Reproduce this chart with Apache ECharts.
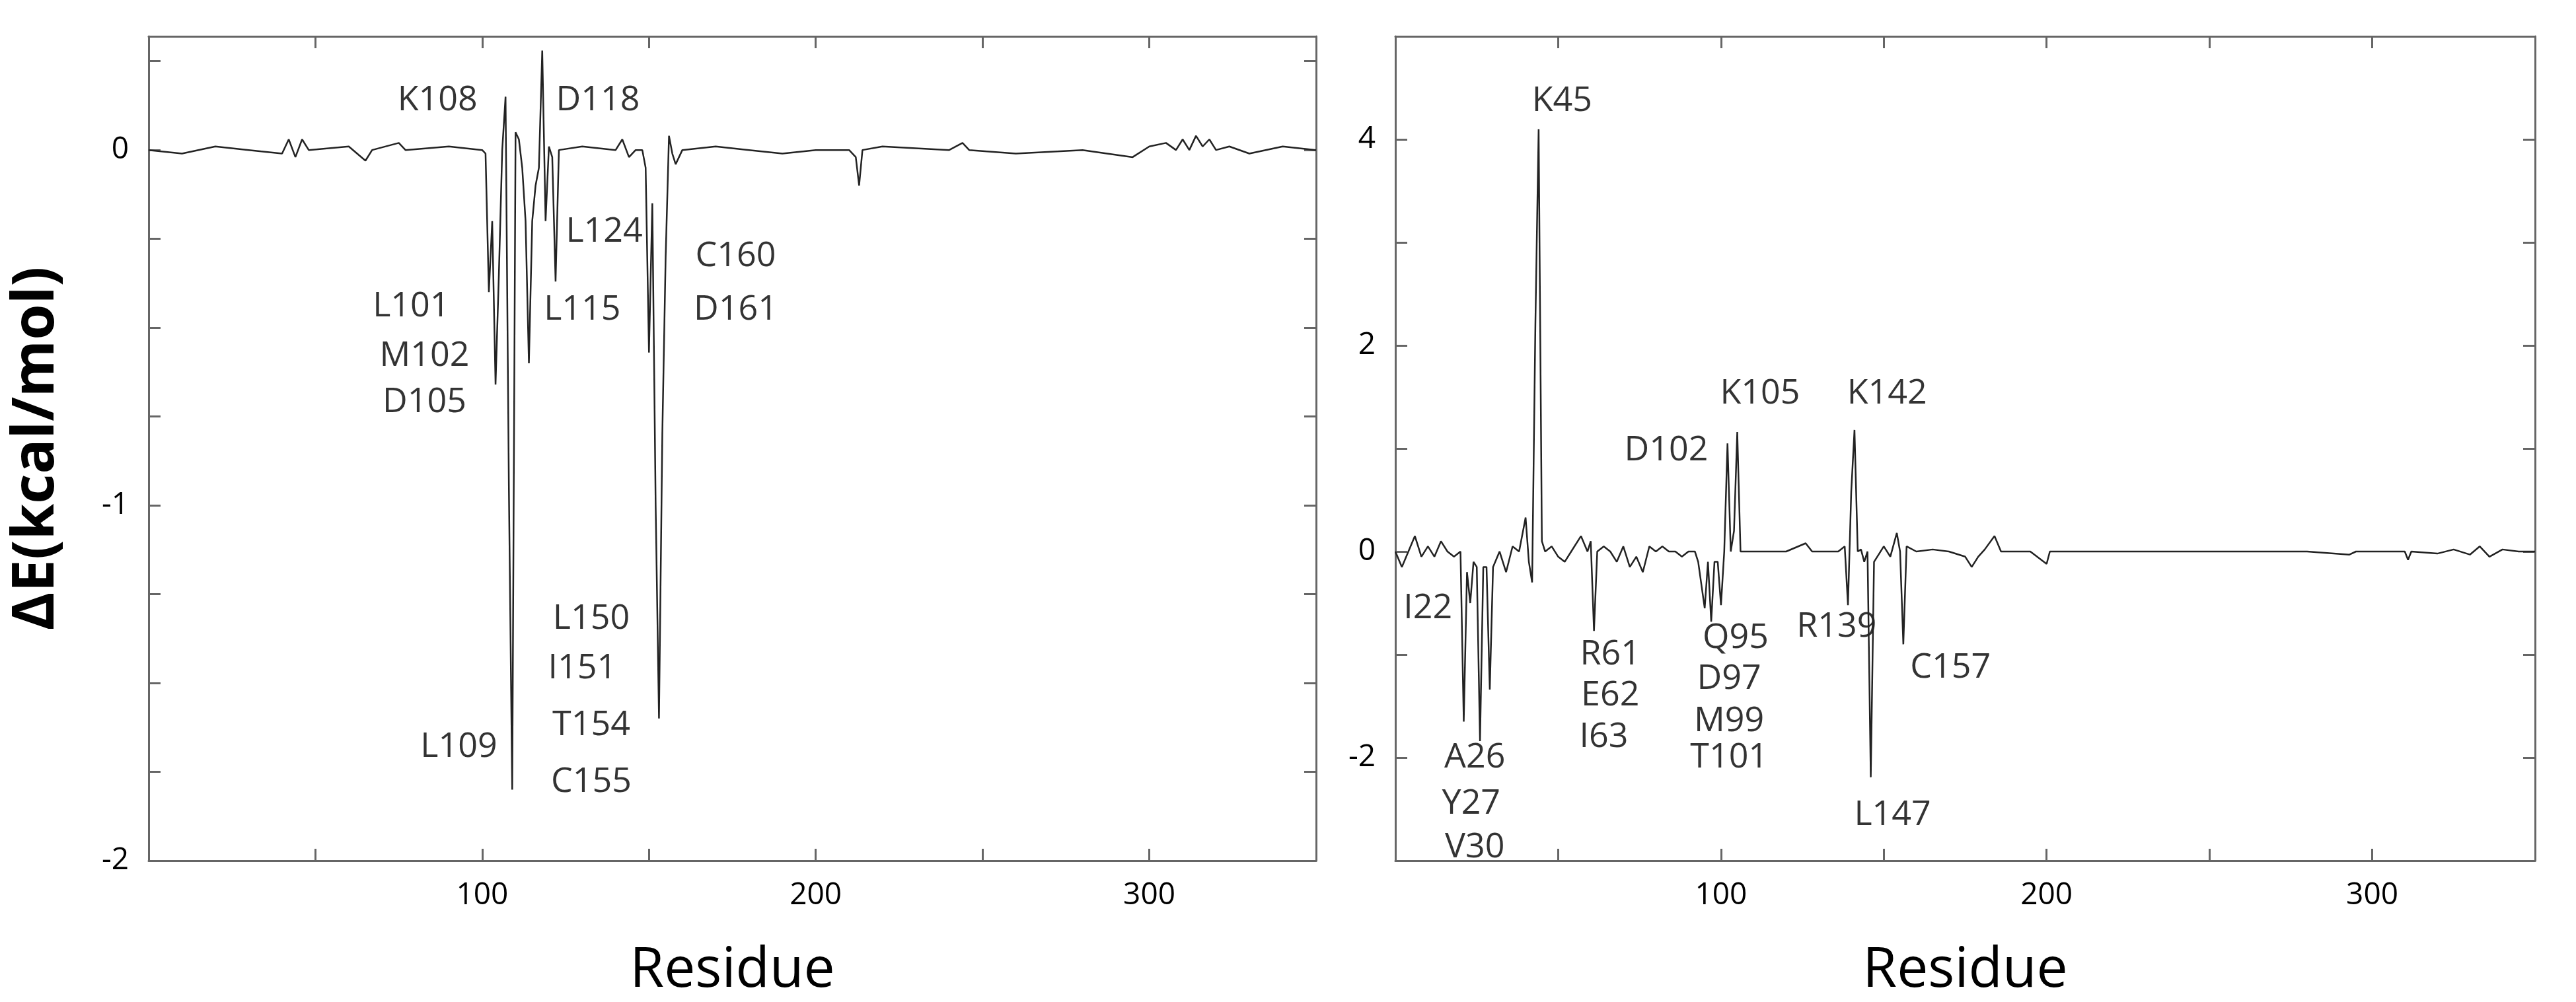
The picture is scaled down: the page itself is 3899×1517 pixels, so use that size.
<!DOCTYPE html>
<html><head><meta charset="utf-8">
<script src="https://cdn.jsdelivr.net/npm/echarts@6/dist/echarts.min.js"></script>
<style>html,body{margin:0;background:#fff}#c{width:3899px;height:1517px}</style>
</head><body><div id="c"></div>
<script>
// Left panel: [residue, ΔE]
const leftData = [[0,0],[10,-0.01],[20,0.01],[30,0],[40,-0.01],[42,0.03],[44,-0.02],[46,0.03],[48,0],[60,0.01],[65,-0.03],[67,0],[75,0.02],[77,0],[90,0.01],[100,0],[101,-0.01],
[102,-0.4],[103,-0.2],[104,-0.66],[105,-0.35],[106,0.0],[107,0.15],[108,-0.95],[109,-1.8],[110,0.05],[111,0.03],[112,-0.05],[113,-0.2],[114,-0.6],[115,-0.2],[116,-0.1],[117,-0.05],[118,0.28],[119,-0.2],[120,0.01],[121,-0.02],[122,-0.37],[123,0],[130,0.01],[140,0],[142,0.03],[144,-0.02],[146,0],[148,0],[149,-0.05],
[150,-0.57],[151,-0.15],[152,-1.0],[153,-1.6],[154,-0.8],[155,-0.3],[156,0.04],[157,-0.01],[158,-0.04],[160,0],[170,0.01],[180,0],[190,-0.01],[200,0],[210,0],[212,-0.02],[213,-0.1],[214,0],[220,0.01],[240,0],[244,0.02],[246,0],[260,-0.01],[280,0],[295,-0.02],[300,0.01],[305,0.02],[308,0],[310,0.03],[312,0],[314,0.04],[316,0.01],[318,0.03],[320,0],[324,0.01],[330,-0.01],[340,0.01],[350,0]];
// Right panel
const rightData = [[0,0],[2,-0.15],[4,0],[6,0.15],[8,-0.05],[10,0.05],[12,-0.05],[14,0.1],[16,0],[18,-0.05],[20,0],[21,-1.65],[22,-0.2],[23,-0.5],[24,-0.1],[25,-0.15],[26,-1.84],[27,-0.15],[28,-0.15],[29,-1.34],[30,-0.15],[32,0.0],[34,-0.2],[36,0.05],[38,0.0],[40,0.33],[41,-0.1],[42,-0.3],[43,2.2],[44,4.1],[45,0.1],[46,0],[48,0.05],[50,-0.05],[52,-0.1],[54,0],[57,0.15],[59,0],[60,0.1],[61,-0.77],[62,0],[64,0.05],[66,0.0],[68,-0.1],[70,0.05],[72,-0.15],[74,-0.05],[76,-0.2],[78,0.05],[80,0],[82,0.05],[84,0],[86,0],[88,-0.05],[90,0],[92,0.0],[93,-0.1],[95,-0.55],[96,-0.1],[97,-0.68],[98,-0.1],[99,-0.1],[100,-0.52],[101,0.0],[102,1.05],[103,0.0],[104,0.2],[105,1.16],[106,0.0],[110,0],[120,0],[126,0.08],[128,0],[136,0],[138,0.05],[139,-0.52],[140,0.58],[141,1.18],[142,0.0],[143,0.02],[144,-0.1],[145,0.0],[146,-2.19],[147,-0.1],[148,-0.05],[150,0.05],[152,-0.05],[154,0.18],[155,0],[156,-0.9],[157,0.05],[160,0],[165,0.02],[170,0],[175,-0.05],[177,-0.15],[179,-0.05],[181,0.02],[184,0.15],[186,0],[195,0],[200,-0.12],[201,0],[220,0],[250,0],[270,0],[280,0],[293,-0.03],[295,0],[310,0],[311,-0.08],[312,0],[320,-0.02],[325,0.02],[330,-0.03],[333,0.05],[336,-0.05],[340,0.02],[345,0],[350,0]];
// Annotations: [text, residue, ΔE]
const leftLabels = [["K108",86.6,0.14],["D118",134.7,0.14],["L124",136.6,-0.23],["C160",176,-0.30],["D161",176,-0.45],["L101",78.7,-0.44],["M102",82.7,-0.58],["D105",82.7,-0.71],["L115",130,-0.45],["L150",132.7,-1.32],["I151",130,-1.46],["T154",132.7,-1.62],["C155",132.7,-1.78],["L109",93,-1.68]];
const rightLabels = [["K45",51.2,4.37],["D102",83.2,0.98],["K105",112,1.53],["K142",151,1.53],["I22",10,-0.55],["A26",24.4,-2.0],["Y27",23.3,-2.45],["V30",24.4,-2.87],["R61",66,-1.0],["E62",66,-1.4],["I63",64,-1.8],["Q95",104.5,-0.84],["D97",102.5,-1.24],["M99",102.5,-1.65],["T101",102.5,-2.0],["R139",135.5,-0.73],["C157",170.5,-1.13],["L147",152.7,-2.56]];
const xTicks = [100,200,300];

const F = 'Open Sans';
const chart = echarts.init(document.getElementById('c'));
const lineCol = '#222', axCol = '#666';
function xAx(g, bottom){
  return {type:'value',gridIndex:g,min:0,max:350,interval:50,position:bottom?'bottom':'top',
    name:bottom?'Residue':'',nameLocation:'middle',nameGap:125,nameTextStyle:{fontFamily:F,fontSize:84,color:'#000'},
    axisLine:{show:true,onZero:false,lineStyle:{color:axCol,width:3}},axisTick:{show:true,inside:true,length:18,lineStyle:{color:axCol,width:3}},
    axisLabel:{show:bottom,fontFamily:F,fontSize:46,color:'#000',margin:30,formatter:v=>xTicks.includes(v)?String(v):''},
    splitLine:{show:false}};
}
function yAx(g,min,max,interval,labelInts,left,name){
  return {type:'value',gridIndex:g,min,max,interval,position:left?'left':'right',
    name:name||'',nameLocation:'middle',nameGap:125,nameTextStyle:{fontFamily:F,fontSize:88,color:'#000',fontWeight:'bold'},
    axisLine:{show:true,onZero:false,lineStyle:{color:axCol,width:3}},axisTick:{show:true,inside:true,length:18,lineStyle:{color:axCol,width:3}},
    axisLabel:{show:left,fontFamily:F,fontSize:46,color:'#000',margin:30,formatter:v=>labelInts.includes(Math.round(v*1000)/1000)?String(v):''},
    splitLine:{show:false}};
}
function labelSeries(xi,yi,arr){
  return {type:'scatter',xAxisIndex:xi,yAxisIndex:yi,symbolSize:0,silent:true,
    data:arr.map(a=>({value:[a[1],a[2]],name:a[0]})),
    label:{show:true,position:'inside',formatter:p=>p.name,fontFamily:F,fontSize:52,color:'#000'}};
}
chart.setOption({
  animation:false,backgroundColor:'#fff',
  grid:[{left:225,right:1907,top:55,bottom:210},{left:2112,right:62,top:55,bottom:210}],
  xAxis:[xAx(0,true),xAx(0,false),xAx(1,true),xAx(1,false)],
  yAxis:[yAx(0,-2,0.32,0.25,[0,-1,-2],true,'ΔE(kcal/mol)'),yAx(0,-2,0.32,0.25,[],false),
         yAx(1,-3,5,1,[4,2,0,-2],true),yAx(1,-3,5,1,[],false)],
  series:[
    {type:'line',xAxisIndex:0,yAxisIndex:0,data:leftData,symbol:'none',lineStyle:{color:lineCol,width:2.5}},
    {type:'line',xAxisIndex:2,yAxisIndex:2,data:rightData,symbol:'none',lineStyle:{color:lineCol,width:2.5}},
    labelSeries(0,0,leftLabels),labelSeries(2,2,rightLabels)
  ]
});
</script></body></html>
